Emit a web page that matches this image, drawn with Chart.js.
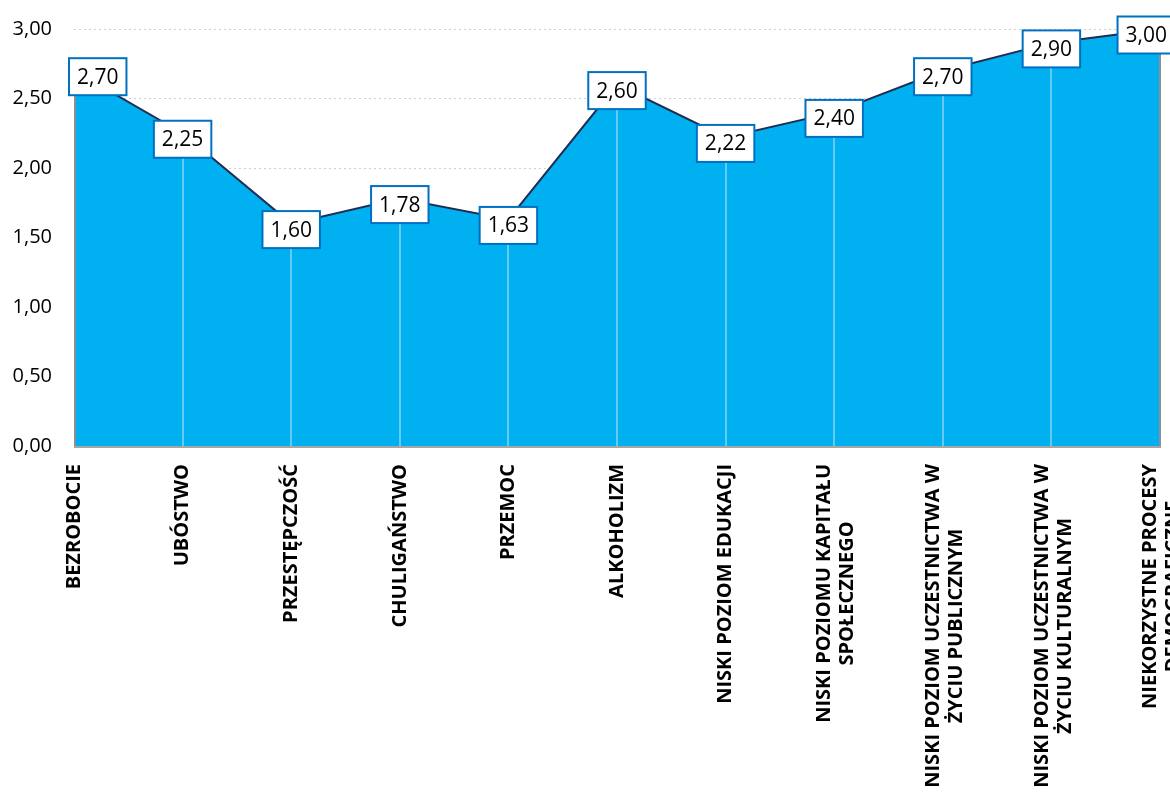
<!DOCTYPE html>
<html>
<head>
<meta charset="utf-8">
<script src="https://cdn.jsdelivr.net/npm/chart.js@4/dist/chart.umd.min.js"></script>
<style>
  html, body { margin: 0; padding: 0; background: #ffffff; }
  #wrap { width: 1170px; height: 798px; }
</style>
</head>
<body>
<div id="wrap"><canvas id="c" width="1170" height="798"></canvas></div>
<script>
const categories = [
  ["BEZROBOCIE"],
  ["UBÓSTWO"],
  ["PRZESTĘPCZOŚĆ"],
  ["CHULIGAŃSTWO"],
  ["PRZEMOC"],
  ["ALKOHOLIZM"],
  ["NISKI POZIOM EDUKACJI"],
  ["NISKI POZIOMU KAPITAŁU", "SPOŁECZNEGO"],
  ["NISKI POZIOM UCZESTNICTWA W", "ŻYCIU PUBLICZNYM"],
  ["NISKI POZIOM UCZESTNICTWA W", "ŻYCIU KULTURALNYM"],
  ["NIEKORZYSTNE PROCESY", "DEMOGRAFICZNE"]
];
const values = [2.70, 2.25, 1.60, 1.78, 1.63, 2.60, 2.22, 2.40, 2.70, 2.90, 3.00];
const yMin = 0;
const yMax = 3;
const yStep = 0.5;

const fmt = v => v.toFixed(2).replace('.', ',');
const FONT = "'Open Sans', 'Noto Sans', sans-serif";
Chart.defaults.font.family = FONT;

const decorPlugin = {
  id: 'decor',
  afterDatasetsDraw(chart) {
    const ctx = chart.ctx;
    const xs = chart.scales.x, ys = chart.scales.y;
    const area = chart.chartArea;
    const base = ys.getPixelForValue(0);
    const meta = chart.getDatasetMeta(0);
    ctx.save();
    // drop lines
    meta.data.forEach((pt, i) => {
      const edge = (i === 0 || i === meta.data.length - 1);
      ctx.beginPath();
      ctx.strokeStyle = edge ? '#8a8f99' : '#86d6f6';
      ctx.lineWidth = edge ? 2 : 1.5;
      ctx.moveTo(Math.round(pt.x) + (i === 0 ? 1 : 0), pt.y + 2);
      ctx.lineTo(Math.round(pt.x) + (i === 0 ? 1 : 0), base);
      ctx.stroke();
    });
    // bottom axis line
    ctx.beginPath();
    ctx.strokeStyle = '#a6a6a6';
    ctx.lineWidth = 2;
    ctx.moveTo(area.left, base + 1);
    ctx.lineTo(area.right + 1, base + 1);
    ctx.stroke();

    // data labels
    ctx.font = "21px " + FONT;
    ctx.textAlign = 'center';
    ctx.textBaseline = 'middle';
    const W = chart.width;
    meta.data.forEach((pt, i) => {
      const txt = fmt(values[i]);
      const tw = ctx.measureText(txt).width;
      const bw = tw + 16, bh = 37;
      let cx = pt.x;
      if (cx - bw / 2 < area.left - 5) cx = area.left - 5 + bw / 2;
      if (cx + bw / 2 > W + 5) cx = W + 5 - bw / 2;
      let cy = pt.y + 6;
      if (cy - bh / 2 < 10) cy = 10 + bh / 2;
      ctx.fillStyle = '#ffffff';
      ctx.fillRect(cx - bw / 2, cy - bh / 2, bw, bh);
      ctx.strokeStyle = '#0070c0';
      ctx.lineWidth = 2;
      ctx.strokeRect(cx - bw / 2, cy - bh / 2, bw, bh);
      ctx.fillStyle = '#000000';
      ctx.fillText(txt, cx, cy + 1);
    });

    // x category labels (rotated, lines centered within block)
    ctx.font = "bold 20px " + FONT;
    ctx.fillStyle = '#000000';
    const topY = base + 18;
    const pitch = 23;
    categories.forEach((lines, i) => {
      const x = xs.getPixelForValue(i);
      const maxW = Math.max(...lines.map(l => ctx.measureText(l).width));
      const cy = topY + maxW / 2;
      const n = lines.length;
      lines.forEach((line, j) => {
        const lx = x + (j - (n - 1) / 2) * pitch + (n > 1 ? 2 : 0);
        ctx.save();
        ctx.translate(lx, cy);
        ctx.rotate(-Math.PI / 2);
        ctx.textAlign = 'center';
        ctx.textBaseline = 'middle';
        ctx.fillText(line, 0, 0);
        ctx.restore();
      });
    });
    ctx.restore();
  }
};

new Chart(document.getElementById('c'), {
  type: 'line',
  data: {
    labels: categories.map(l => l.join(' ')),
    datasets: [{
      data: values,
      fill: 'origin',
      backgroundColor: '#00b0f0',
      borderColor: '#1f2d52',
      borderWidth: 2,
      pointRadius: 0,
      tension: 0
    }]
  },
  options: {
    responsive: false,
    animation: false,
    devicePixelRatio: 1,
    layout: { padding: { top: 29, right: 10, left: 0, bottom: 0 } },
    plugins: { legend: { display: false }, tooltip: { enabled: false } },
    scales: {
      x: {
        type: 'category',
        offset: false,
        grid: { display: false },
        border: { display: false },
        ticks: { display: false },
        afterFit(s) { s.height = 352; s.paddingLeft = 0; s.paddingRight = 0; }
      },
      y: {
        min: yMin,
        max: yMax,
        grid: { color: '#d0d0d0', lineWidth: 1, drawTicks: false },
        border: { display: false, dash: [2, 3] },
        ticks: {
          stepSize: yStep,
          padding: 22,
          color: '#000000',
          font: { size: 20, family: FONT },
          callback: v => fmt(v)
        },
        afterFit(s) { s.width = 74; s.paddingTop = 0; s.paddingBottom = 0; }
      }
    }
  },
  plugins: [decorPlugin]
});
</script>
</body>
</html>
